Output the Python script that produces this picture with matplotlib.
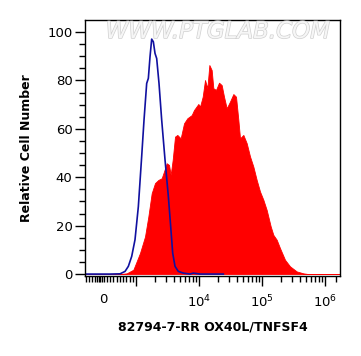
import matplotlib
matplotlib.use("Agg")
import matplotlib.pyplot as plt
import matplotlib.transforms as mtransforms
import matplotlib.patheffects as pe

# stained sample (red filled histogram)
red_x = [-570, 500, 713, 918, 1157, 1389, 1570, 1773, 2003, 2262, 2555, 2783, 3068,
         3341, 3550, 3820, 4159, 4529, 5117, 5781, 6528, 7648, 8330, 9759, 10373,
         11435, 12454, 13563, 14588, 15887, 16884, 18616, 20772, 22897, 24937,
         27489, 31050, 35075, 38667, 42112, 44754, 50547, 57100, 64500, 72860,
         82300, 92960, 105000, 118600, 137300, 151300, 170900, 193100, 231700,
         278200, 355000, 453000, 543800, 1730000]
red_y = [0, 0, 0.3, 1.8, 8.7, 15.5, 23.8, 33.4, 37.6, 38.9, 39.6, 42.4, 45.8,
         45.1, 41.0, 47.2, 56.8, 57.5, 56.1, 62.3, 64.4, 65.7, 67.8, 70.3, 69.2,
         73.3, 80.2, 76.8, 86.4, 84.3, 76.8, 76.1, 79.1, 78.1, 73.3,
         68.5, 71.3, 74.4, 73.3, 63.7, 56.1, 57.5, 54.1, 48.6, 44.4,
         38.9, 34.1, 30.7, 26.5, 19.7, 16.2, 14.2, 10.7, 5.9,
         3.2, 1.1, 0.3, 0, 0]

# isotype control (blue line)
blue_x = [-570, 200, 508, 662, 764, 867, 969, 1089, 1230, 1340, 1477, 1570, 1668,
          1773, 1884, 2003, 2129, 2317, 2555, 2887, 3262, 3550, 3820, 4159, 4697,
          5640, 7197, 8128, 10373, 16884, 24330]
blue_y = [0, 0, 0.1, 1.1, 3.2, 7.3, 14.2, 27.9, 48.6, 63.7, 78.8, 80.9, 89.8,
          97.1, 96.0, 91.2, 89.1, 78.8, 63.7, 47.2, 32.0, 19.7, 8.7, 3.2, 1.1,
          0.4, 0, 0.4, 0, 0, 0]

major_ticks = [1e3, 1e4, 1e5, 1e6]
major_labels = ['', '$10^{4}$', '$10^{5}$', '$10^{6}$']
minor_ticks = ([-550, -450, -350, -250, -200, -150, -100, -50, 0,
                100, 200, 300, 400, 500, 600, 700, 800, 900]
               + [m * 10 ** e for e in (3, 4, 5) for m in range(2, 10)]
               + [1.5e6])

plt.rcParams['font.family'] = 'DejaVu Sans'

fig = plt.figure(figsize=(3.61, 3.56), dpi=100)
ax = fig.add_axes([0.2355, 0.2247, 0.7064, 0.7191])

ax.fill_between(red_x, red_y, 0, color='#ff0000', linewidth=0.6, edgecolor='#ff0000')
ax.plot(blue_x, blue_y, color='#1010a0', linewidth=1.2)

ax.set_xscale('symlog', linthresh=1000, linscale=0.464, base=10)
ax.set_xlim(-570, 1.73e6)
ax.set_ylim(-0.8, 105)

ax.set_xticks(major_ticks)
ax.set_xticklabels(major_labels)
ax.set_xticks(minor_ticks, minor=True)
ax.set_yticks([0, 20, 40, 60, 80, 100])
ax.set_yticks(range(0, 105, 5), minor=True)

ax.tick_params(axis='both', which='major', length=7, width=1, labelsize=9.5)
ax.tick_params(axis='both', which='minor', length=4, width=1)
ax.tick_params(axis='x', which='major', pad=6)
ax.tick_params(axis='y', which='major', pad=2)

trans = mtransforms.blended_transform_factory(ax.transData, ax.transAxes)
ax.text(0, -0.065, '0', transform=trans, ha='center', va='top', fontsize=9.5)

for s in ax.spines.values():
    s.set_linewidth(1)

ax.set_xlabel('82794-7-RR OX40L/TNFSF4', fontsize=9, fontweight='bold', labelpad=7)
ax.set_ylabel('Relative Cell Number', fontsize=9, fontweight='bold', labelpad=10)

ax.text(0.52, 0.955, 'WWW.PTGLAB.COM', transform=ax.transAxes, ha='center', va='center',
        fontsize=16.5, color='#f6f6f6', style='italic',
        path_effects=[pe.withStroke(linewidth=1.0, foreground='#d0d0d0')])

fig.savefig('out.png', dpi=100)
